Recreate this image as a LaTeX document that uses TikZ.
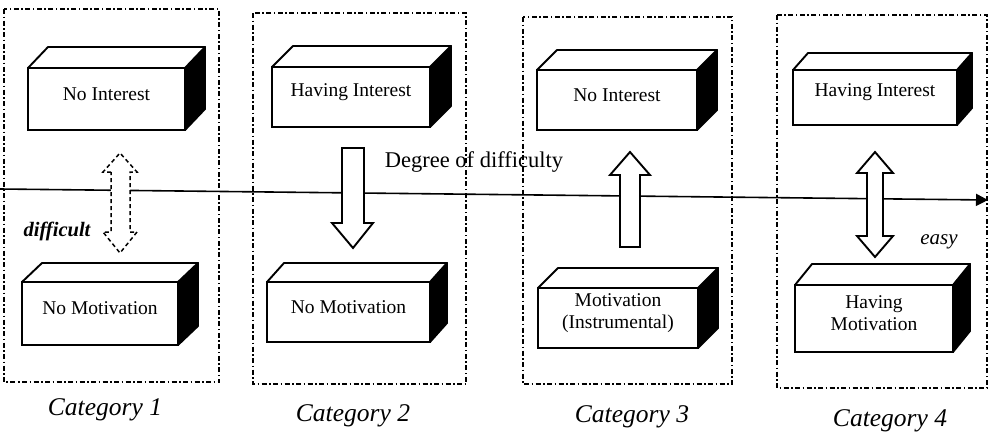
\documentclass[tikz,border=0pt]{standalone}
\usepackage{fontspec}
\setmainfont{Liberation Serif}
\usetikzlibrary{arrows.meta}
\tikzset{
  catframe/.style={draw, line width=1.6pt, dash pattern=on 5pt off 2.5pt on 1.5pt off 2.5pt},
  frontface/.style={draw, line width=2.2pt, fill=white, inner sep=0pt, outer sep=0pt, rectangle},
  boxtext/.style={font=\fontsize{19.5}{22}\selectfont, align=center, inner sep=0pt},
  facestyle/.style={draw, line width=1.9pt, line join=round},
  blockarrow/.style={draw, line width=1.9pt, fill=white, line join=miter},
  dashedarrow/.style={draw, line width=1.5pt, fill=white, dash pattern=on 4pt off 3pt},
  cattext/.style={font=\itshape\fontsize{25.5}{28}\selectfont, inner sep=0pt},
  axisline/.style={line width=1.6pt, -{Triangle[length=12pt,width=12pt]}}
}
% #1 name, #2 x1, #3 y1, #4 x2, #5 y2, #6 dx, #7 dy, #8 text
\newcommand\threedbox[8]{%
  \node[frontface, minimum width={(#4-#2)*1pt}, minimum height={(#5-#3)*1pt}] (#1) at ({(#2+#4)/2},{(#3+#5)/2}) {};
  \path[facestyle, fill=black] (#1.north east) -- ++(#6,-#7) -- ++(0,{#5-#3}) -- (#1.south east) -- cycle;
  \path[facestyle, fill=white] (#1.north west) -- ++(#6,-#7) -- ++({#4-#2},0) -- (#1.north east) -- cycle;
  \node[boxtext] (#1-t) at ({(#2+#4)/2},{(#3+#5)/2-5}) {#8};
}
\begin{document}
\begin{tikzpicture}[x=1pt,y=-1pt]
\useasboundingbox (0,0) rectangle (989,437);

% category frames
\draw[catframe] (4,9) rectangle (219,382);
\draw[catframe] (253,13) rectangle (466,384);
\draw[catframe] (523,17) rectangle (732,384);
\draw[catframe] (777,15) rectangle (987,388);

% axis
\coordinate (ls) at (0,189);
\coordinate (le) at (988,200);
\draw[axisline] (ls) -- (le);

% boxes
\threedbox{c1top}{28}{68}{185}{130}{20}{21}{No Interest}
\threedbox{c1bot}{22}{282}{178}{345}{20}{19}{No Motivation}
\threedbox{c2top}{272}{67}{430}{127}{21}{21}{Having Interest}
\threedbox{c2bot}{267}{282}{430}{342}{17}{19}{No Motivation}
\threedbox{c3top}{537}{70}{697}{130}{20}{20}{No Interest}
\threedbox{c3bot}{538}{288}{698}{348}{20}{20}{Motivation\\(Instrumental)}
\threedbox{c4top}{793}{70}{957}{125}{15}{17}{Having Interest}
\threedbox{c4bot}{795}{285}{953}{352}{17}{21}{Having\\Motivation}

% block arrows
\draw[dashedarrow] (111,172) -- (103,172) -- (120,153) -- (137,172) -- (130,172)
  -- (130,232) -- (137,232) -- (120,253) -- (103,232) -- (111,232) -- cycle;
\draw[blockarrow] (342,148) -- (364,148) -- (364,223) -- (373,223) -- (353,248)
  -- (332,223) -- (342,223) -- cycle;
\draw[blockarrow] (620,247) -- (620,175) -- (610,175) -- (630,152) -- (650,175)
  -- (640,175) -- (640,247) -- cycle;
\draw[blockarrow] (867,173) -- (857,173) -- (875,152) -- (893,173) -- (883,173)
  -- (883,236) -- (893,236) -- (875,257) -- (857,236) -- (867,236) -- cycle;

% labels
\node[font=\fontsize{22.5}{26}\selectfont, inner sep=0pt] (deg) at (474,162) {Degree of difficulty};
\node[font=\bfseries\itshape\fontsize{20.5}{23}\selectfont, inner sep=0pt] (diff) at (57,231) {difficult};
\node[font=\itshape\fontsize{21}{24}\selectfont, inner sep=0pt] (easy) at (939,242) {easy};

\node[cattext] (cat1) at (105,410) {Category 1};
\node[cattext] (cat2) at (353,416) {Category 2};
\node[cattext] (cat3) at (632,417) {Category 3};
\node[cattext] (cat4) at (890,421) {Category 4};
\end{tikzpicture}
\end{document}
